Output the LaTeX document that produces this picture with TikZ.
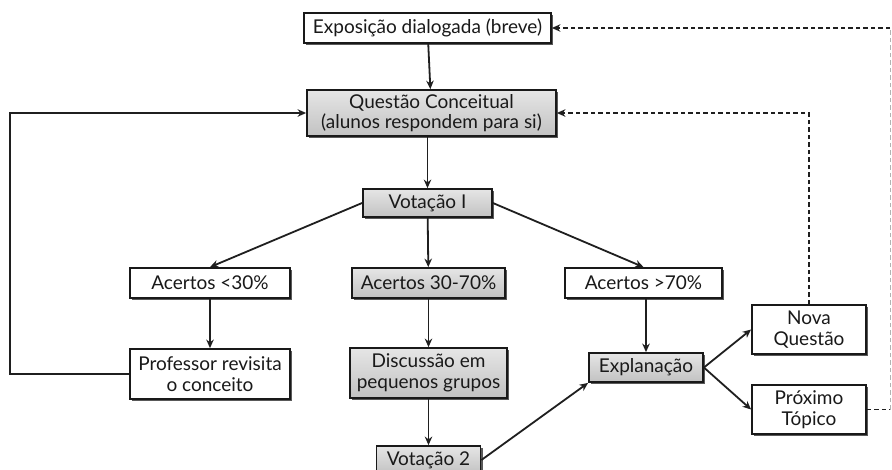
\documentclass[tikz,border=0pt]{standalone}
\usepackage{fontspec}
\setmainfont{Lato}
\usetikzlibrary{shadows,arrows.meta}
\begin{document}
\begin{tikzpicture}[x=1pt,y=-1pt,
  box/.style={draw=black!90, line width=1.8pt, fill=white, align=center,
    inner sep=0pt, font=\fontsize{19}{20.5}\selectfont, text=black!90,
    drop shadow={shadow xshift=2pt, shadow yshift=-2.2pt, fill=black, opacity=0.65}},
  gbox/.style={box, top color=gray!20, bottom color=gray!48},
  conn/.style={draw=black!88, line width=1.8pt, -{Stealth[length=8.5pt,width=7.5pt]}},
  dconn/.style={draw=black!88, line width=1.8pt, dash pattern=on 4.5pt off 3pt}]
\useasboundingbox[fill=white] (0,0) rectangle (892,469);

\node[box, minimum width=247pt, minimum height=30pt] (expo) at (427.5,28) {Exposição dialogada (breve)};
\node[gbox, minimum width=249pt, minimum height=46pt] (quest) at (431.5,113) {Questão Conceitual\\(alunos respondem para si)};
\node[gbox, minimum width=129pt, minimum height=28pt] (vot1) at (427.5,203) {Votação I};
\node[box, minimum width=160pt, minimum height=30pt] (ac30) at (210,283) {Acertos <30\%};
\node[gbox, minimum width=153pt, minimum height=30pt] (ac3070) at (428.5,283) {Acertos 30-70\%};
\node[box, minimum width=157pt, minimum height=30pt] (ac70) at (643.5,283) {Acertos >70\%};
\node[box, minimum width=160pt, minimum height=50pt] (prof) at (210,374) {Professor revisita\\o conceito};
\node[gbox, minimum width=157pt, minimum height=50pt] (disc) at (428.5,373) {Discussão em\\pequenos grupos};
\node[gbox, minimum width=104pt, minimum height=28pt] (vot2) at (428.5,460) {Votação 2};
\node[gbox, minimum width=114pt, minimum height=29pt] (expl) at (646,367.5) {Explanação};
\node[box, minimum width=114pt, minimum height=49pt] (nova) at (809,329.5) {Nova\\Questão};
\node[box, minimum width=114pt, minimum height=49pt] (prox) at (809,409.5) {Próximo\\Tópico};

\draw[conn] (expo) -- (quest);
\draw[conn] (quest.south -| vot1) -- (vot1);
\draw[conn] (vot1.west) -- (ac30.north);
\draw[conn] (vot1) -- (ac3070);
\draw[conn] (vot1.east) -- (ac70.north);
\draw[conn] (ac30) -- (prof);
\draw[conn] (ac3070) -- (disc);
\draw[conn] (disc) -- (vot2);
\draw[conn] (ac70.south -| expl) -- (expl);
\draw[conn] (vot2.east) -- (expl.south west);
\draw[conn] (expl.east) -- (nova.west);
\draw[conn] (expl.east) -- (prox.west);

\coordinate (l1) at (10,374);
\coordinate (l2) at (10,113);
\draw[conn] (prof.west) -- (l1) -- (l2) -- (quest.west);

\coordinate (n1) at (809,113);
\draw[dconn, -{Stealth[length=8.5pt,width=7.5pt]}] (nova.north) -- (n1) -- (quest.east);

\coordinate (p1) at (890,409.5);
\coordinate (p2) at (890,28);
\draw[dconn] (prox.east) -- (p1);
\draw[dconn, draw=black!30, line width=1pt] (p1) -- (p2);
\draw[dconn, -{Stealth[length=8.5pt,width=7.5pt]}] (p2) -- (expo.east);
\end{tikzpicture}
\end{document}
